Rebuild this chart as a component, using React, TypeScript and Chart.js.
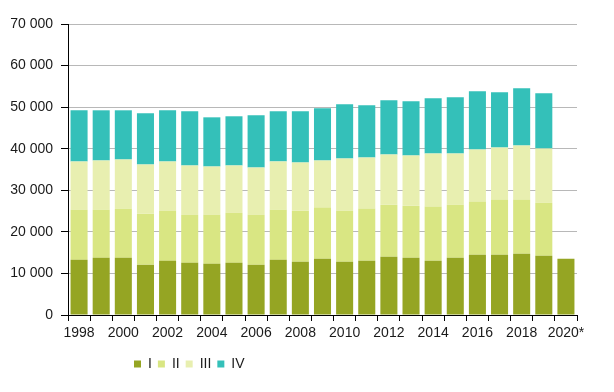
import React, { useEffect, useRef } from "react";
import { Chart, registerables } from "chart.js";

Chart.register(...registerables);

const years = ["1998","1999","2000","2001","2002","2003","2004","2005","2006","2007","2008","2009","2010","2011","2012","2013","2014","2015","2016","2017","2018","2019","2020*"];

const seriesI = [13280,13760,13760,12070,13030,12550,12310,12550,12070,13280,12790,13520,12790,13030,14000,13760,13030,13760,14480,14480,14720,14240,13520];
const seriesII = [12060,11590,11830,12310,12070,11590,11830,12070,12070,12070,12310,12310,12310,12560,12550,12550,13040,12790,12800,13280,13040,12790,null];
const seriesIII = [11590,11820,11820,11830,11830,11830,11580,11350,11340,11590,11590,11340,12550,12310,12070,12070,12790,12310,12550,12550,13030,13040,null];
const seriesIV = [12310,12070,11830,12310,12310,13040,11830,11830,12550,12070,12310,12550,13040,12550,13030,13030,13280,13520,14000,13280,13760,13270,null];

const seriesNames = ["I", "II", "III", "IV"];
const colors = ["#95a523", "#d9e683", "#e8efb0", "#34c0b9"];

const fmt = (v: number) => String(v).replace(/\B(?=(\d{3})+(?!\d))/g, " ");

export default function App() {
  const ref = useRef<HTMLCanvasElement | null>(null);
  useEffect(() => {
    if (!ref.current) return;
    const font = { family: "'Liberation Sans', Arial, sans-serif", size: 14 };
    const legendShift = {
      id: "legendShift",
      afterLayout(chart: any) {
        const lg = chart.legend;
        if (lg) {
          const w = lg.right - lg.left;
          lg.left = 128;
          lg.right = 128 + w;
        }
      },
    };
    const chart = new Chart(ref.current, {
      type: "bar",
      data: {
        labels: years,
        datasets: [seriesI, seriesII, seriesIII, seriesIV].map((d, i) => ({
          label: seriesNames[i],
          data: d,
          backgroundColor: colors[i],
          borderWidth: 0,
          barPercentage: 0.77,
          categoryPercentage: 1,
        })),
      },
      options: {
        responsive: false,
        animation: false,
        layout: { padding: { left: 0, right: 37, top: 24, bottom: 11 } },
        plugins: {
          tooltip: { enabled: false },
          legend: {
            position: "bottom",
            align: "start",
            labels: {
              boxWidth: 7,
              boxHeight: 7,
              padding: 6,
              color: "#1a1a1a",
              font,
            },
          },
        },
        scales: {
          x: {
            stacked: true,
            offset: true,
            grid: {
              display: true,
              drawOnChartArea: false,
              offset: true,
              tickLength: 6,
              tickColor: "#000",
            },
            border: { color: "#000", width: 1 },
            ticks: {
              autoSkip: false,
              maxRotation: 0,
              padding: 4,
              color: "#1a1a1a",
              font,
              callback: (_v: any, i: number) => (i % 2 === 0 ? years[i] : ""),
            },
            afterFit: (s: any) => {
              s.height = 36;
            },
          },
          y: {
            stacked: true,
            min: 0,
            max: 70000,
            grid: {
              color: "#b8b8b8",
              tickColor: "#000",
              tickLength: 7,
            },
            border: { color: "#000", width: 1 },
            ticks: {
              stepSize: 10000,
              padding: 8,
              color: "#1a1a1a",
              font,
              callback: (v: any) => fmt(Number(v)),
            },
            afterFit: (s: any) => {
              s.width = 68;
            },
          },
        },
      },
      plugins: [legendShift],
    });
    return () => chart.destroy();
  }, []);
  return (
    <div style={{ position: "fixed", left: 0, top: 0, width: 614, height: 392, background: "#fff" }}>
      <canvas ref={ref} width={614} height={392} />
    </div>
  );
}
